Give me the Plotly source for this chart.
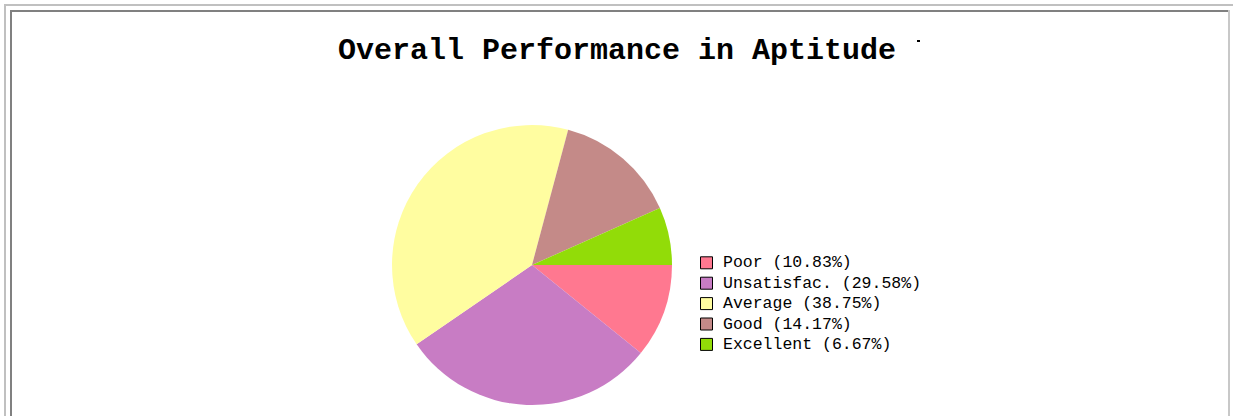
import plotly.graph_objects as go

# ---- data ----
title_text = "Overall Performance in Aptitude"
categories = ["Poor", "Unsatisfac.", "Average", "Good", "Excellent"]
percent_values = [10.83, 29.58, 38.75, 14.17, 6.67]
slice_colors = ["#FF7890", "#C87CC4", "#FFFDA0", "#C48A88", "#92DC08"]

W, H = 1233, 416


def px(x):
    return x / W


def py(y):
    return 1 - y / H


fig = go.Figure()
fig.add_trace(go.Pie(
    labels=categories,
    values=percent_values,
    sort=False,
    direction="clockwise",
    rotation=90,
    marker=dict(colors=slice_colors, line=dict(width=0)),
    textinfo="none",
    hoverinfo="label+value",
    showlegend=False,
    domain=dict(x=[px(392), px(672)], y=[py(405), py(125)]),
))

shapes = []
annotations = []

# frame (inset border)
def rect(x0, y0, x1, y1, color):
    shapes.append(dict(type="rect", xref="paper", yref="paper",
                       x0=px(x0), x1=px(x1), y0=py(y1), y1=py(y0),
                       fillcolor=color, line=dict(width=0), layer="above"))

rect(4, 4, 1233, 6, "#C0C0C0")
rect(4, 4, 6, 416, "#C0C0C0")
rect(10, 10, 1228, 12, "#808080")
rect(10, 10, 12, 416, "#808080")
rect(1228, 10, 1230, 416, "#C8C8C8")

# title + clipped remnant
annotations.append(dict(text=f"<b>{title_text}</b>", xref="paper", yref="paper",
                        x=px(336), y=py(51.5), xanchor="left", yanchor="middle",
                        showarrow=False,
                        font=dict(family="Liberation Mono", size=30, color="#000000")))
rect(917, 40, 920, 42, "#000000")

# legend
for i, (cat, val, col) in enumerate(zip(categories, percent_values, slice_colors)):
    cy = 262.8 + 20.4 * i
    shapes.append(dict(type="rect", xref="paper", yref="paper",
                       x0=px(700.5), x1=px(712.5), y0=py(cy + 6), y1=py(cy - 6),
                       fillcolor=col, line=dict(color="#000000", width=1)))
    annotations.append(dict(text=f"{cat} ({val:.2f}%)", xref="paper", yref="paper",
                            x=px(721), y=py(cy), xanchor="left", yanchor="middle",
                            showarrow=False,
                            font=dict(family="Liberation Mono", size=16.5, color="#000000")))

fig.update_layout(
    width=W, height=H,
    margin=dict(l=0, r=0, t=0, b=0),
    paper_bgcolor="#FFFFFF",
    plot_bgcolor="#FFFFFF",
    shapes=shapes,
    annotations=annotations,
)

fig.write_html("out.html", config={"displayModeBar": False},
               post_script="document.body.style.margin='0';document.body.style.overflow='hidden';")
